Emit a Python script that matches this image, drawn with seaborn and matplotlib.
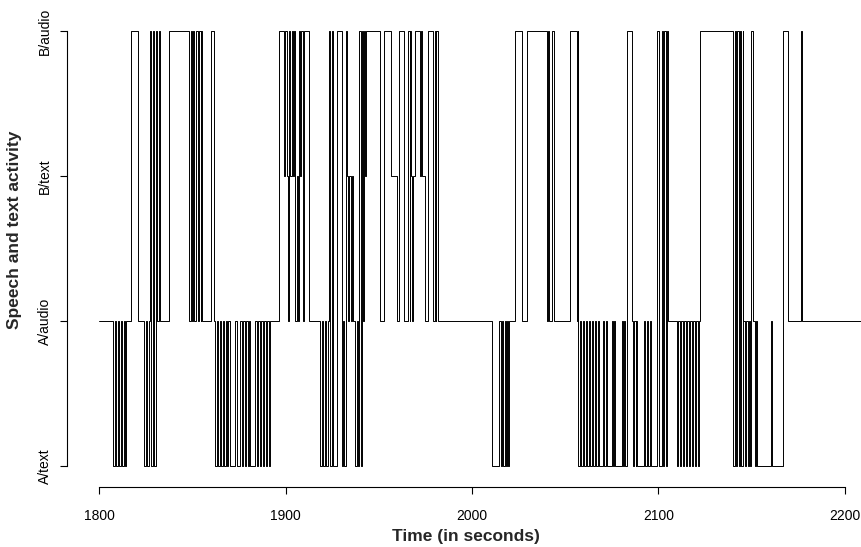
import matplotlib
matplotlib.use("Agg")
import pandas as pd
import matplotlib.pyplot as plt
import seaborn as sns

# level names on the y axis (0..3) and x ticks
level_names = ["A/text", "A/audio", "B/text", "B/audio"]
x_ticks = [1800, 1900, 2000, 2100, 2200]

# change points (seconds) and the state that holds from each one on
times = [
    1800.0, 1807.5, 1808.4, 1809.3, 1810.2, 1810.8, 1811.6, 1812.3, 1813.2, 1813.8,
    1814.5, 1817.0, 1820.8, 1824.3, 1825.1, 1825.9, 1826.7, 1827.4, 1828.1, 1828.9,
    1829.7, 1830.5, 1831.3, 1832.0, 1832.6, 1837.5, 1848.4, 1849.1, 1849.9, 1850.5,
    1850.9, 1852.0, 1852.8, 1853.6, 1854.4, 1854.8, 1855.2, 1860.0, 1861.7, 1862.2,
    1863.0, 1863.8, 1864.6, 1865.4, 1866.2, 1867.0, 1867.8, 1868.6, 1869.4, 1870.1,
    1872.9, 1873.7, 1875.6, 1876.4, 1877.2, 1878.0, 1878.8, 1879.6, 1880.4, 1881.2,
    1883.7, 1884.5, 1885.3, 1886.1, 1886.9, 1887.7, 1888.5, 1889.3, 1890.1, 1890.9,
    1891.6, 1896.7, 1899.2, 1899.9, 1900.6, 1901.3, 1901.9, 1902.6, 1903.3, 1904.0,
    1904.7, 1905.2, 1905.9, 1906.5, 1907.1, 1907.7, 1908.3, 1909.5, 1909.9, 1912.6,
    1918.5, 1919.3, 1920.1, 1920.9, 1921.7, 1922.5, 1923.3, 1924.0, 1924.8, 1925.4,
    1927.7, 1930.3, 1931.0, 1931.5, 1932.2, 1932.8, 1933.5, 1934.2, 1934.9, 1935.6,
    1936.3, 1937.3, 1938.1, 1938.9, 1939.6, 1940.3, 1941.0, 1941.5, 1942.0, 1942.5,
    1943.1, 1950.7, 1952.8, 1956.6, 1959.8, 1960.6, 1963.4, 1965.5, 1966.6, 1966.9,
    1967.5, 1968.0, 1968.6, 1969.2, 1972.0, 1972.5, 1973.0, 1974.7, 1976.5, 1978.9,
    1980.1, 1980.5, 1980.8, 1981.9, 2010.6, 2014.7, 2015.4, 2016.1, 2016.8, 2017.5,
    2018.2, 2018.9, 2019.5, 2020.0, 2023.1, 2026.7, 2029.7, 2040.2, 2040.5, 2041.4,
    2043.0, 2044.0, 2052.5, 2056.3, 2056.6, 2057.0, 2057.8, 2058.6, 2059.4, 2060.2,
    2061.0, 2061.8, 2062.6, 2063.4, 2064.2, 2065.0, 2065.8, 2066.6, 2067.4, 2068.2,
    2070.2, 2071.0, 2071.8, 2072.6, 2074.9, 2075.7, 2076.4, 2076.8, 2080.2, 2081.0,
    2081.7, 2082.3, 2083.0, 2083.3, 2085.6, 2086.1, 2086.9, 2087.7, 2088.2, 2088.6,
    2092.2, 2093.0, 2093.8, 2094.6, 2095.4, 2096.2, 2099.4, 2100.4, 2101.7, 2102.4,
    2103.2, 2104.0, 2104.7, 2105.3, 2109.8, 2110.6, 2111.4, 2112.2, 2113.0, 2113.8,
    2114.6, 2115.4, 2116.2, 2117.0, 2117.8, 2118.6, 2119.4, 2120.2, 2121.0, 2121.7,
    2122.3, 2140.2, 2140.9, 2141.6, 2142.3, 2143.0, 2143.7, 2144.4, 2145.1, 2145.5,
    2146.2, 2147.0, 2147.8, 2148.6, 2149.2, 2149.6, 2150.8, 2151.5, 2152.2, 2152.7,
    2160.6, 2160.8, 2166.6, 2169.6, 2176.2, 2177.2, 2210.0,
]
states = [
    1, 0, 1, 0, 1, 0, 1, 0, 1, 0,
    1, 3, 1, 0, 1, 0, 1, 3, 0, 3,
    0, 3, 1, 3, 1, 3, 1, 3, 1, 3,
    1, 3, 1, 3, 1, 3, 1, 3, 1, 0,
    1, 0, 1, 0, 1, 0, 1, 0, 1, 0,
    1, 0, 1, 0, 1, 0, 1, 0, 1, 0,
    1, 0, 1, 0, 1, 0, 1, 0, 1, 0,
    1, 3, 2, 3, 2, 1, 3, 2, 3, 2,
    3, 1, 2, 1, 3, 2, 3, 1, 3, 1,
    0, 1, 0, 1, 0, 1, 3, 0, 3, 0,
    3, 0, 1, 0, 3, 2, 1, 2, 1, 2,
    1, 0, 1, 0, 3, 0, 3, 1, 3, 2,
    3, 1, 3, 2, 1, 3, 1, 3, 1, 3,
    2, 1, 2, 3, 2, 3, 2, 1, 3, 1,
    3, 1, 3, 1, 0, 1, 0, 1, 0, 1,
    0, 1, 0, 1, 3, 1, 3, 1, 3, 1,
    3, 1, 3, 1, 3, 0, 1, 0, 1, 0,
    1, 0, 1, 0, 1, 0, 1, 0, 1, 0,
    1, 0, 1, 0, 1, 0, 1, 0, 1, 0,
    1, 0, 1, 3, 1, 0, 1, 0, 1, 0,
    1, 0, 1, 0, 1, 0, 3, 0, 3, 0,
    3, 0, 3, 1, 0, 1, 0, 1, 0, 1,
    0, 1, 0, 1, 0, 1, 0, 1, 0, 1,
    3, 0, 3, 0, 3, 0, 3, 0, 3, 1,
    0, 1, 0, 1, 0, 3, 1, 0, 1, 0,
    1, 0, 3, 1, 3, 1, 1,
]

df = pd.DataFrame({"time": times, "state": states})

sns.set_style("ticks")
plt.rcParams["font.family"] = ["Liberation Sans", "DejaVu Sans"]

fig = plt.figure(figsize=(8.61, 5.47), dpi=100)
ax = fig.add_axes([67 / 861, 63.6 / 547, 794 / 861, 469.8 / 547])

sns.lineplot(data=df, x="time", y="state", drawstyle="steps-post",
             color="black", linewidth=0.7, estimator=None, sort=False, ax=ax)

ax.set_xlim(1782.8, 2208.6)
ax.set_ylim(-0.12, 3.12)

# R-like axes: no box, axis lines only across the tick range
for side in ["top", "right"]:
    ax.spines[side].set_visible(False)
ax.spines["left"].set_bounds(0, 3)
ax.spines["bottom"].set_bounds(1800, 2200)
ax.spines["bottom"].set_position(("outward", 2.5))
for side in ["left", "bottom"]:
    ax.spines[side].set_linewidth(0.8)
    ax.spines[side].set_color("black")

ax.set_xticks(x_ticks)
ax.set_xticklabels([str(t) for t in x_ticks])
ax.set_yticks(range(len(level_names)))
ax.set_yticklabels(level_names, rotation=90, va="center")
ax.tick_params(axis="both", direction="out", length=5, width=0.8,
               colors="black", labelsize=10)
ax.tick_params(axis="x", pad=11)
ax.tick_params(axis="y", pad=6)

ax.set_xlabel("Time (in seconds)", fontsize=12.5, fontweight="bold")
ax.set_ylabel("Speech and text activity", fontsize=12.5, fontweight="bold")
ax.xaxis.set_label_coords(0.5025, -0.114)
ax.yaxis.set_label_coords(-0.0655, 0.539)
ax.xaxis.label.set_va("center")
ax.yaxis.label.set_va("center")

fig.savefig("out.png", dpi=100)
